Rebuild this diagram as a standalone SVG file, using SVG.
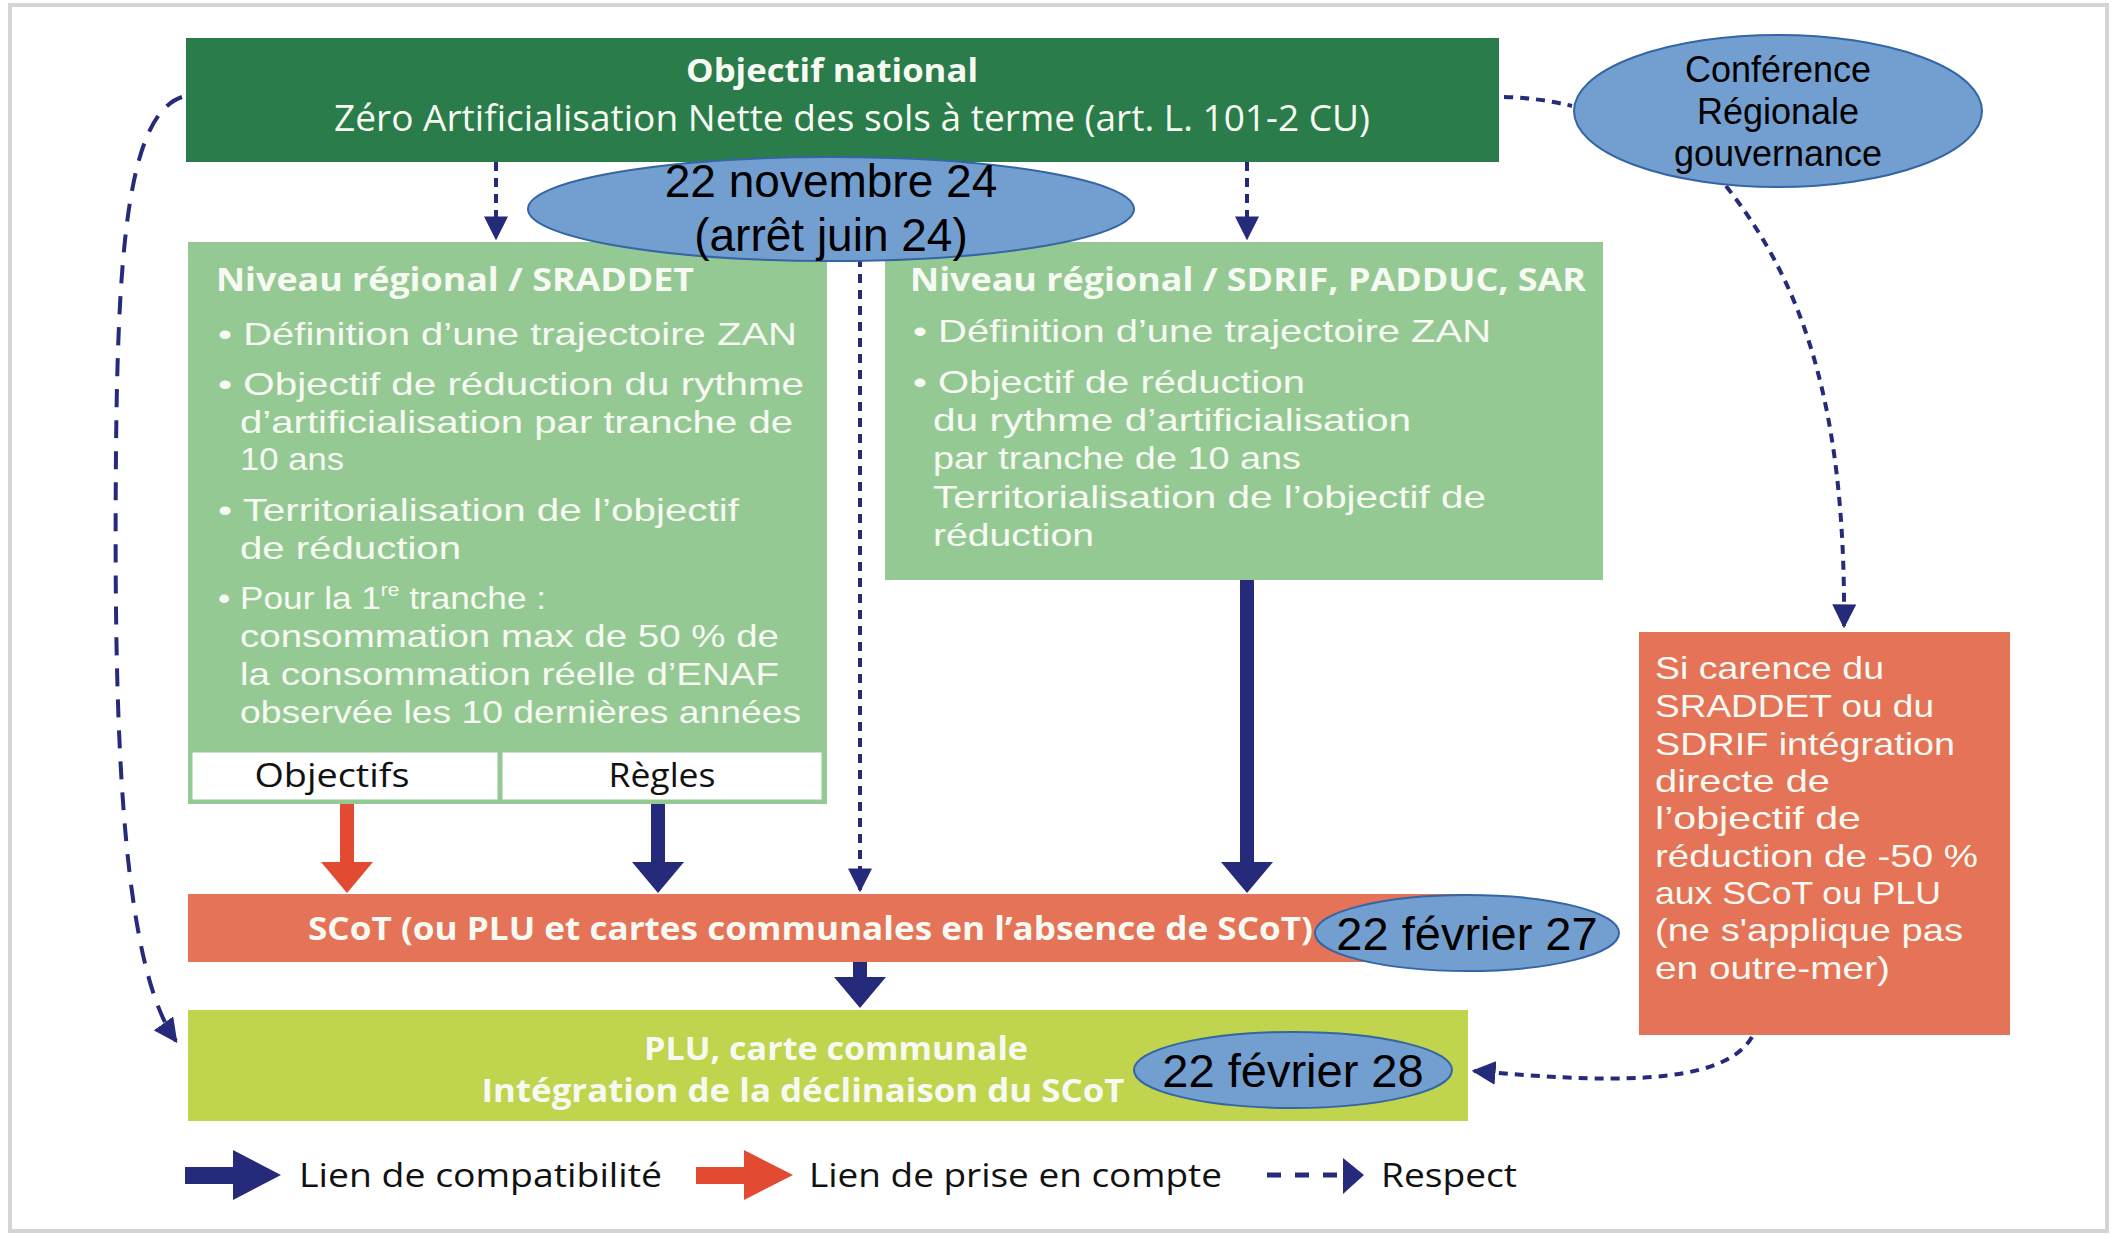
<svg xmlns="http://www.w3.org/2000/svg" width="2118" height="1235" viewBox="0 0 2118 1235">
<defs>
<style>
.w{fill:#f7faf2;font-family:"Liberation Sans",Arial,sans-serif;font-size:32px}
.wo{fill:#f7faf2;font-family:"Open Sans","DejaVu Sans",sans-serif;font-size:36px}
.wb{fill:#f7faf2;font-family:"Open Sans","DejaVu Sans",sans-serif;font-size:32px;font-weight:bold}
.k{fill:#111;font-family:"Open Sans","DejaVu Sans",sans-serif;font-size:33px}
.e{fill:#000;font-family:"Liberation Sans",Arial,sans-serif;text-anchor:middle}
.ell{fill:#729fcf;stroke:#3465a4;stroke-width:2}
.dash{fill:none;stroke:#262a7a;stroke-width:4;stroke-dasharray:9 7}
.ldash{fill:none;stroke:#262a7a;stroke-width:4;stroke-dasharray:18 13}
.navy{fill:#262a7a}
.red{fill:#e24b31}
</style>
<marker id="ah" viewBox="0 0 20 20" refX="18" refY="10" markerWidth="24" markerHeight="24" markerUnits="userSpaceOnUse" orient="auto">
<path d="M0,0 L20,10 L0,20 Z" fill="#262a7a"/>
</marker>
</defs>
<rect x="0" y="0" width="2118" height="1235" fill="#fff"/>
<rect x="10" y="5" width="2097" height="1226" fill="none" stroke="#d4d4d4" stroke-width="4"/>

<g id="connectors">
<path class="dash" d="M496,162 L496,238" marker-end="url(#ah)"/>
<path class="dash" d="M1247,162 L1247,238" marker-end="url(#ah)"/>
<path class="dash" d="M860,162 L860,890" marker-end="url(#ah)"/>
<path class="dash" d="M1504,97 Q1540,98 1572,106"/>
<path class="dash" d="M1726,186 C1800,280 1846,400 1844,626" marker-end="url(#ah)"/>
<path class="dash" d="M1752,1037 C1722,1088 1600,1082 1474,1071" marker-end="url(#ah)"/>
<path class="ldash" d="M182,97 C128,115 118,250 116,450 C114,700 118,960 176,1041" marker-end="url(#ah)"/>
<rect class="red" x="340" y="804" width="14" height="62"/>
<path class="red" d="M321,862 L373,862 L347,893 Z"/>
<rect class="navy" x="651" y="804" width="14" height="62"/>
<path class="navy" d="M632,862 L684,862 L658,893 Z"/>
<rect class="navy" x="1240" y="580" width="14" height="286"/>
<path class="navy" d="M1221,862 L1273,862 L1247,893 Z"/>
<rect class="navy" x="853" y="962" width="14" height="18"/>
<path class="navy" d="M834,977 L886,977 L860,1008 Z"/>
</g>

<g id="national">
<rect x="186" y="38" width="1313" height="124" fill="#2a7c4a"/>
<text class="wb" x="832" y="82" text-anchor="middle" font-size="36" textLength="292" lengthAdjust="spacingAndGlyphs">Objectif national</text>
<text class="wo" x="852" y="131" text-anchor="middle" textLength="1036" lengthAdjust="spacingAndGlyphs">Zéro Artificialisation Nette des sols à terme (art. L. 101-2 CU)</text>
</g>

<g id="conference">
<ellipse class="ell" cx="1778" cy="111" rx="204" ry="76"/>
<text class="e" x="1778" y="82" font-size="36">Conférence</text>
<text class="e" x="1778" y="124" font-size="36">Régionale</text>
<text class="e" x="1778" y="166" font-size="36">gouvernance</text>
</g>

<g id="sraddet">
<rect x="188" y="242" width="639" height="562" fill="#95c994"/>
<text class="wb" x="216" y="291" textLength="478" lengthAdjust="spacingAndGlyphs">Niveau régional / SRADDET</text>
<text class="w" x="218" y="345" textLength="579" lengthAdjust="spacingAndGlyphs">• Définition d’une trajectoire ZAN</text>
<text class="w" x="218" y="395" textLength="586" lengthAdjust="spacingAndGlyphs">• Objectif de réduction du rythme</text>
<text class="w" x="240" y="433" textLength="553" lengthAdjust="spacingAndGlyphs">d’artificialisation par tranche de</text>
<text class="w" x="240" y="470" textLength="104" lengthAdjust="spacingAndGlyphs">10 ans</text>
<text class="w" x="218" y="521" textLength="521" lengthAdjust="spacingAndGlyphs">• Territorialisation de l’objectif</text>
<text class="w" x="240" y="559" textLength="221" lengthAdjust="spacingAndGlyphs">de réduction</text>
<text class="w" x="218" y="609" textLength="328" lengthAdjust="spacingAndGlyphs">• Pour la 1<tspan font-size="19" dy="-13">re</tspan><tspan dy="13"> tranche :</tspan></text>
<text class="w" x="240" y="647" textLength="539" lengthAdjust="spacingAndGlyphs">consommation max de 50 % de</text>
<text class="w" x="240" y="685" textLength="539" lengthAdjust="spacingAndGlyphs">la consommation réelle d’ENAF</text>
<text class="w" x="240" y="723" textLength="561" lengthAdjust="spacingAndGlyphs">observée les 10 dernières années</text>
<rect x="191" y="751" width="308" height="50" fill="#fff" stroke="#95c994" stroke-width="3"/>
<rect x="501" y="751" width="322" height="50" fill="#fff" stroke="#95c994" stroke-width="3"/>
<text class="k" x="332" y="787" text-anchor="middle" textLength="155" lengthAdjust="spacingAndGlyphs">Objectifs</text>
<text class="k" x="662" y="787" text-anchor="middle" textLength="107" lengthAdjust="spacingAndGlyphs">Règles</text>
</g>

<g id="sdrif">
<rect x="885" y="242" width="718" height="338" fill="#95c994"/>
<text class="wb" x="910" y="291" textLength="676" lengthAdjust="spacingAndGlyphs">Niveau régional / SDRIF, PADDUC, SAR</text>
<text class="w" x="913" y="342" textLength="578" lengthAdjust="spacingAndGlyphs">• Définition d’une trajectoire ZAN</text>
<text class="w" x="913" y="393" textLength="392" lengthAdjust="spacingAndGlyphs">• Objectif de réduction</text>
<text class="w" x="933" y="431" textLength="478" lengthAdjust="spacingAndGlyphs">du rythme d’artificialisation</text>
<text class="w" x="933" y="469" textLength="368" lengthAdjust="spacingAndGlyphs">par tranche de 10 ans</text>
<text class="w" x="933" y="508" textLength="553" lengthAdjust="spacingAndGlyphs">Territorialisation de l’objectif de</text>
<text class="w" x="933" y="546" textLength="161" lengthAdjust="spacingAndGlyphs">réduction</text>
</g>

<g id="date-2024">
<ellipse class="ell" cx="831" cy="209" rx="303" ry="52"/>
<text class="e" x="831" y="197" font-size="46">22 novembre 24</text>
<text class="e" x="831" y="251" font-size="46">(arrêt juin 24)</text>
</g>

<g id="carence">
<rect x="1639" y="632" width="371" height="403" fill="#e57358"/>
<text class="w" x="1655" y="679" font-size="31" textLength="229" lengthAdjust="spacingAndGlyphs">Si carence du</text>
<text class="w" x="1655" y="717" font-size="31" textLength="279" lengthAdjust="spacingAndGlyphs">SRADDET ou du</text>
<text class="w" x="1655" y="755" font-size="31" textLength="300" lengthAdjust="spacingAndGlyphs">SDRIF intégration</text>
<text class="w" x="1655" y="792" font-size="31" textLength="175" lengthAdjust="spacingAndGlyphs">directe de</text>
<text class="w" x="1655" y="829" font-size="31" textLength="206" lengthAdjust="spacingAndGlyphs">l’objectif de</text>
<text class="w" x="1655" y="867" font-size="31" textLength="323" lengthAdjust="spacingAndGlyphs">réduction de -50 %</text>
<text class="w" x="1655" y="904" font-size="31" textLength="286" lengthAdjust="spacingAndGlyphs">aux SCoT ou PLU</text>
<text class="w" x="1655" y="941" font-size="31" textLength="308" lengthAdjust="spacingAndGlyphs">(ne s'applique pas</text>
<text class="w" x="1655" y="979" font-size="31" textLength="235" lengthAdjust="spacingAndGlyphs">en outre-mer)</text>
</g>

<g id="scot">
<rect x="188" y="894" width="1280" height="68" fill="#e57358"/>
<text class="wb" x="308" y="940" font-size="34" textLength="1005" lengthAdjust="spacingAndGlyphs">SCoT (ou PLU et cartes communales en l’absence de SCoT)</text>
</g>

<g id="date-2027">
<ellipse class="ell" cx="1467" cy="933" rx="152" ry="38"/>
<text class="e" x="1467" y="950" font-size="47">22 février 27</text>
</g>

<g id="plu">
<rect x="188" y="1010" width="1280" height="111" fill="#c0d44e"/>
<text class="wb" x="836" y="1060" text-anchor="middle" font-size="34" textLength="384" lengthAdjust="spacingAndGlyphs">PLU, carte communale</text>
<text class="wb" x="803" y="1102" text-anchor="middle" font-size="34" textLength="643" lengthAdjust="spacingAndGlyphs">Intégration de la déclinaison du SCoT</text>
</g>

<g id="date-2028">
<ellipse class="ell" cx="1293" cy="1070" rx="159" ry="38"/>
<text class="e" x="1293" y="1087" font-size="47">22 février 28</text>
</g>

<g id="legend">
<rect class="navy" x="185" y="1167" width="50" height="17"/>
<path class="navy" d="M233,1150 L281,1175 L233,1200 Z"/>
<text class="k" x="299" y="1187" font-size="35" textLength="363" lengthAdjust="spacingAndGlyphs">Lien de compatibilité</text>
<rect class="red" x="696" y="1167" width="50" height="17"/>
<path class="red" d="M744,1150 L793,1175 L744,1200 Z"/>
<text class="k" x="809" y="1187" font-size="35" textLength="413" lengthAdjust="spacingAndGlyphs">Lien de prise en compte</text>
<path d="M1267,1175 L1345,1175" stroke="#262a7a" stroke-width="5" stroke-dasharray="14 14" fill="none"/>
<path class="navy" d="M1343,1158 L1364,1175 L1343,1194 Z"/>
<text class="k" x="1381" y="1187" font-size="35" textLength="136" lengthAdjust="spacingAndGlyphs">Respect</text>
</g>
</svg>
